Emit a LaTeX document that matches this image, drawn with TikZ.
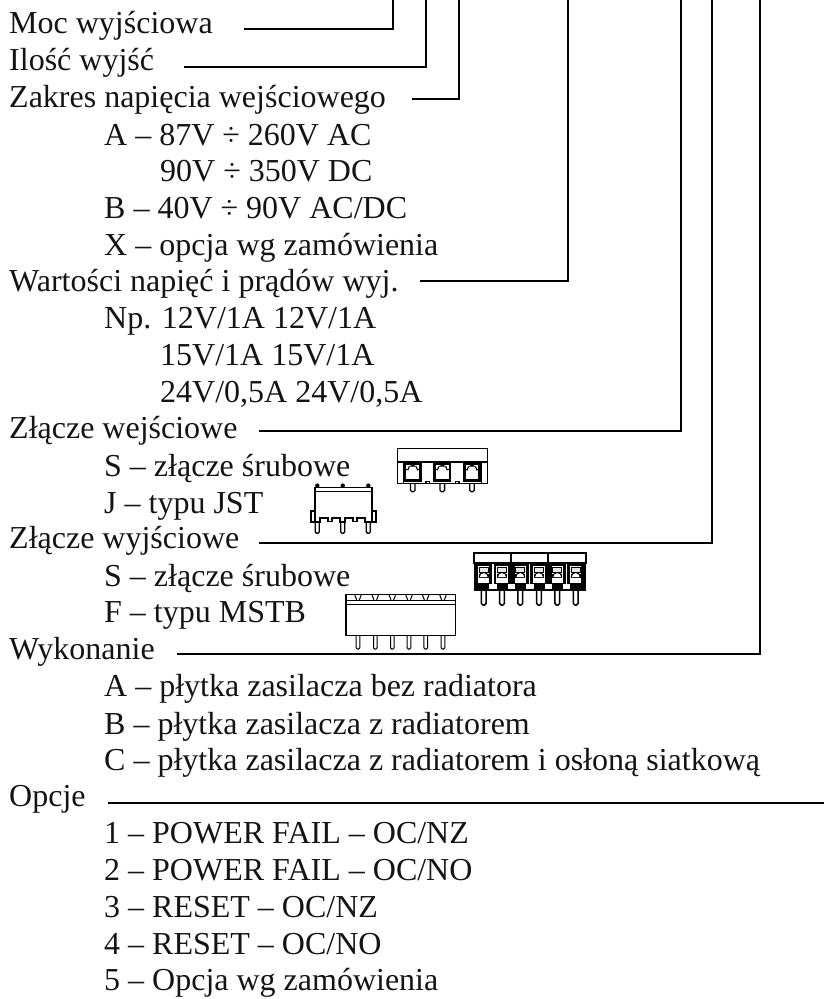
\documentclass[tikz,border=0pt]{standalone}
\usepackage{fontspec}
\setmainfont{Liberation Serif}
\tikzset{
  lbl/.style={anchor=base west,inner sep=0pt,font=\fontsize{32pt}{37pt}\selectfont,text=black!92},
  lead/.style={line width=1.7pt,line cap=rect},
  thinp/.style={line width=1pt},
  medp/.style={line width=1.3pt},
  thickp/.style={line width=1.8pt},
  pinp/.style={line width=1.3pt,fill=white},
  screwA/.pic={
    \fill[black] (-9,0) rectangle (9,19.5);
    \fill[white] (-6.4,2.5) rectangle (6.4,16.5);
    \draw[line width=1.2pt] (-6.4,7.5) -- (6.4,7.5);
    \draw[line width=1.1pt,fill=white] (-5,8) arc[start angle=180,end angle=360,radius=5];
    \draw[line width=0.8pt,black!70] (-4.2,4.5) -- (4.2,4.5);
  },
  screwB/.pic={
    \fill[white] (-5.6,1.5) rectangle (5.6,18.5);
    \draw[line width=1pt,fill=white!90!black] (-4.5,2.5) rectangle (4.5,7.5);
    \draw[line width=1pt,fill=white] (-4.5,10) rectangle (4.5,12.5);
    \draw[line width=1pt,fill=white] (-4.5,12.5) arc[start angle=180,end angle=360,radius=4.5];
  }
}
\begin{document}
\begin{tikzpicture}[x=1pt,y=-1pt]
\useasboundingbox (0,0) rectangle (824,999);
\foreach \n/\x/\y/\t in {
a/9/33.3/{Moc wyjściowa},
b/9/70.7/{Ilość wyjść},
c/9/107.3/{Zakres napięcia wejściowego},
d/104/145/{A – 87V ÷ 260V AC},
e/160/181.5/{90V ÷ 350V DC},
f/104/218.3/{B – 40V ÷ 90V AC/DC},
g/104/255/{X – opcja wg zamówienia},
h/9/291.7/{Wartości napięć i prądów wyj.},
i/104/328.3/{Np. 12V/1A 12V/1A},
j/160/365/{15V/1A 15V/1A},
k/160/402.3/{24V/0,5A 24V/0,5A},
l/9/438.5/{Złącze wejściowe},
m/104/476/{S – złącze śrubowe},
n/104/513.3/{J – typu JST},
o/9/548.5/{Złącze wyjściowe},
p/104/586/{S – złącze śrubowe},
q/104/622.7/{F – typu MSTB},
r/9/659.3/{Wykonanie},
s/104/696.7/{A – płytka zasilacza bez radiatora},
t/104/734.3/{B – płytka zasilacza z radiatorem},
u/104/770.7/{C – płytka zasilacza z radiatorem i osłoną siatkową},
v/9/806.7/{Opcje},
w/104/843.3/{1 – POWER FAIL – OC/NZ},
x/104/880.7/{2 – POWER FAIL – OC/NO},
y/104/917.3/{3 – RESET – OC/NZ},
z/104/954/{4 – RESET – OC/NO},
zz/104/990.7/{5 – Opcja wg zamówienia}}
{\node[lbl] (\n) at (\x,\y) {\t};}
\foreach \n/\x/\y in {a/245/28.7,b/184.5/66.7,c/412.7/98.7,h/420.7/280.7,l/260/430.7,o/260/542.7,r/177.5/654.3,v/108.5/802.7}
{\coordinate (s\n) at (\x,\y);}
\foreach \n/\x/\y in {a/392.7/-2,b/425.7/-2,c/459/-2,h/568.3/-2,l/680.7/-2,o/712.3/-2,r/760.3/-2}
{\coordinate (e\n) at (\x,\y);}
\foreach \n in {a,b,c,h,l,o,r}
{\draw[lead] (s\n) -| (e\n);}
\coordinate (ev) at (826,802.7);
\draw[lead] (sv) -- (ev);

% --- input screw connector
\foreach \x in {412.7,442.3,472} {
  \draw[pinp,rounded corners=1.6pt] (\x-2.3,483) -- (\x-2.3,491.8) -- (\x+2.3,491.8) -- (\x+2.3,483);
}
\draw[thinp,fill=white] (397.7,448) rectangle (487,483.3);
\draw[thickp] (397.7,462.3) -- (487,462.3);
\draw[thinp] (403,462.3) -- (403,483.3) (481.7,462.3) -- (481.7,483.3);
\foreach \x in {412.7,442.3,472} { \pic at (\x,462.3) {screwA}; }
\draw[medp] (426,483.3) -- (426,481.5) -- (429.5,481.5) -- (429.5,483.3);
\draw[medp] (455.5,483.3) -- (455.5,481.5) -- (459,481.5) -- (459,483.3);

% --- JST connector
\foreach \x in {317.3,342.7,368.3} {
  \fill (\x,485.6) circle[radius=2.2];
  \draw[pinp,rounded corners=1.4pt] (\x-2,520) -- (\x-2,533.3) -- (\x+2,533.3) -- (\x+2,520);
}
\draw[thickp,fill=white] (315,521.7) -- (315,487.4) -- (371.7,487.4) -- (371.7,521.7);
\draw[thinp] (315,491.7) -- (371.7,491.7);
\draw[thickp] (310.7,510.7) rectangle (315,522);
\draw[thickp] (371.7,510.7) rectangle (375.7,522);
\draw[thickp] (315,522) -- (320,522) -- (320,518.2) -- (328,518.2) -- (328,521.5) -- (332,521.5) -- (332,518.2) -- (340,518.2) -- (340,522) -- (345,522) -- (345,518.2) -- (353,518.2) -- (353,521.5) -- (357,521.5) -- (357,518.2) -- (365,518.2) -- (365,522) -- (371.7,522);

% --- output screw connector
\foreach \x in {483.7,502,520.3,539,557.3,575.7} {
  \draw[line width=1.5pt,fill=white,rounded corners=1.6pt] (\x-2.4,589) -- (\x-2.4,605) -- (\x+2.4,605) -- (\x+2.4,589);
}
\fill[black] (474.3,562) rectangle (585.7,591);
\foreach \x in {483.7,502,520.3,539,557.3,575.7} { \pic at (\x,564.5) {screwB}; }
\foreach \x in {492.8,529.6,566.5} { \fill[white] (\x-0.8,564) rectangle (\x+0.8,586); }
\fill[white] (489,583.5) rectangle (497,589);
\fill[white] (507.5,583.5) rectangle (515,589);
\fill[white] (526,583.5) rectangle (533.5,589);
\fill[white] (544.5,583.5) rectangle (552,589);
\fill[white] (563,583.5) rectangle (570,589);
\draw[line width=2pt] (474.3,552.5) rectangle (585.7,562.7);
\draw[line width=2pt] (511.3,552.5) -- (511.3,562.7) (548.3,552.5) -- (548.3,562.7);

% --- MSTB connector
\foreach \x in {358,375.3,392.3,409,425.7,443} {
  \draw[thinp,fill=white,rounded corners=1.2pt] (\x-1.8,635.7) -- (\x-1.8,649) -- (\x+1.8,649) -- (\x+1.8,635.7);
}
\draw[medp,fill=white] (346,594.3) rectangle (455.3,635.7);
\draw[thinp] (346,600) -- (455.3,600);
\draw[medp] (346,604.5) -- (455.3,604.5);
\foreach \x in {358,375.3,392.3,409,425.7,443} {
  \draw[thinp] (\x-3.5,594.3) -- (\x-1.3,600) (\x+3.5,594.3) -- (\x+1.3,600);
}
\end{tikzpicture}
\end{document}
